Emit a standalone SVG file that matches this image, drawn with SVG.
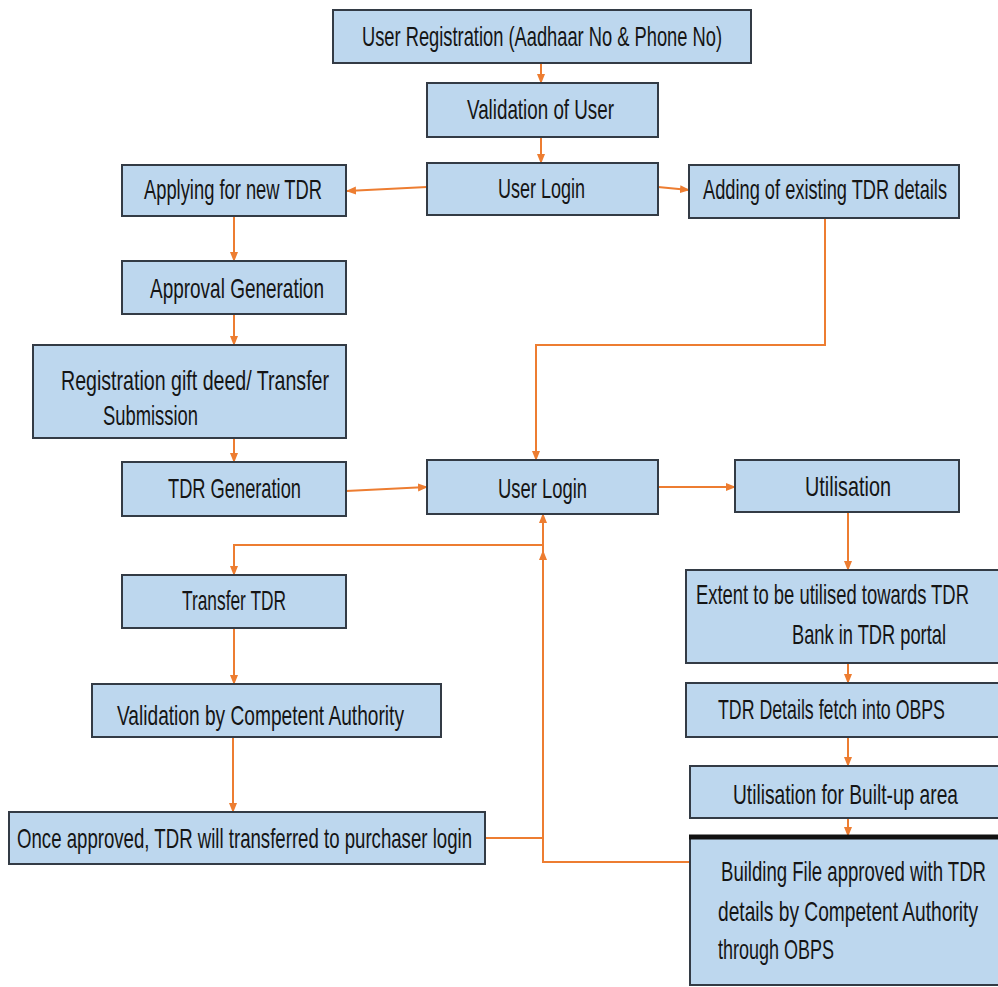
<svg xmlns="http://www.w3.org/2000/svg" width="998" height="987" viewBox="0 0 998 987">
<style>
.box{fill:#BDD7EE;stroke:#333b45;stroke-width:2}
.t{font-family:"Liberation Sans",Arial,sans-serif;font-size:28px;fill:#151515}
.c{fill:none;stroke:#ED7D31;stroke-width:2}
</style>
<defs>
<marker id="a" markerWidth="10" markerHeight="10" refX="9" refY="5" orient="auto" markerUnits="userSpaceOnUse">
<path d="M0,1 L10,5 L0,9 Z" fill="#ED7D31"/>
</marker>
</defs>
<rect width="998" height="987" fill="#fff"/>
<g id="connectors">
<path class="c" d="M541,63 V83" marker-end="url(#a)"/>
<path class="c" d="M541,137 V163" marker-end="url(#a)"/>
<path class="c" d="M427,187 L347,191" marker-end="url(#a)"/>
<path class="c" d="M658,187 L689,190" marker-end="url(#a)"/>
<path class="c" d="M234,216 V261" marker-end="url(#a)"/>
<path class="c" d="M234,313 V345" marker-end="url(#a)"/>
<path class="c" d="M234,438 V462" marker-end="url(#a)"/>
<path class="c" d="M825,218 V345 H536 V460" marker-end="url(#a)"/>
<path class="c" d="M346,491 L427,487" marker-end="url(#a)"/>
<path class="c" d="M658,487 H735" marker-end="url(#a)"/>
<path class="c" d="M848,512 V570" marker-end="url(#a)"/>
<path class="c" d="M848,663 V683" marker-end="url(#a)"/>
<path class="c" d="M848,737 V766" marker-end="url(#a)"/>
<path class="c" d="M848,818 V836" marker-end="url(#a)"/>
<path class="c" d="M690,862 H543 V551" marker-end="url(#a)"/>
<path class="c" d="M543,551 V514" marker-end="url(#a)"/>
<path class="c" d="M485,838 H543"/>
<path class="c" d="M543,545 H234 V575" marker-end="url(#a)"/>
<path class="c" d="M234,628 V684" marker-end="url(#a)"/>
<path class="c" d="M233,737 V812" marker-end="url(#a)"/>
</g>
<g id="n1"><rect class="box" x="333" y="10" width="418" height="53"/><text class="t" transform="translate(362,46) scale(0.66,1)" textLength="545.5" lengthAdjust="spacingAndGlyphs">User Registration (Aadhaar No &amp; Phone No)</text></g>
<g id="n2"><rect class="box" x="427" y="83" width="231" height="54"/><text class="t" transform="translate(467,119) scale(0.66,1)" textLength="222.7" lengthAdjust="spacingAndGlyphs">Validation of User</text></g>
<g id="n3"><rect class="box" x="427" y="163" width="231" height="52"/><text class="t" transform="translate(498,198) scale(0.66,1)" textLength="131.8" lengthAdjust="spacingAndGlyphs">User Login</text></g>
<g id="n4"><rect class="box" x="122" y="165" width="224" height="51"/><text class="t" transform="translate(144,199) scale(0.66,1)" textLength="269.7" lengthAdjust="spacingAndGlyphs">Applying for new TDR</text></g>
<g id="n5"><rect class="box" x="689" y="165" width="270" height="53"/><text class="t" transform="translate(703,199) scale(0.66,1)" textLength="369.7" lengthAdjust="spacingAndGlyphs">Adding of existing TDR details</text></g>
<g id="n6"><rect class="box" x="122" y="261" width="224" height="53"/><text class="t" transform="translate(150,298) scale(0.66,1)" textLength="263.6" lengthAdjust="spacingAndGlyphs">Approval Generation</text></g>
<g id="n7"><rect class="box" x="33" y="345" width="313" height="93"/><text class="t" transform="translate(61,390) scale(0.66,1)" textLength="406.1" lengthAdjust="spacingAndGlyphs">Registration gift deed/ Transfer</text><text class="t" transform="translate(103,425) scale(0.66,1)" textLength="143.9" lengthAdjust="spacingAndGlyphs">Submission</text></g>
<g id="n8"><rect class="box" x="122" y="462" width="224" height="54"/><text class="t" transform="translate(168,498) scale(0.66,1)" textLength="201.5" lengthAdjust="spacingAndGlyphs">TDR Generation</text></g>
<g id="n9"><rect class="box" x="427" y="460" width="231" height="54"/><text class="t" transform="translate(498,498) scale(0.66,1)" textLength="134.8" lengthAdjust="spacingAndGlyphs">User Login</text></g>
<g id="n10"><rect class="box" x="735" y="460" width="224" height="52"/><text class="t" transform="translate(805,496) scale(0.66,1)" textLength="130.3" lengthAdjust="spacingAndGlyphs">Utilisation</text></g>
<g id="n11"><rect class="box" x="122" y="575" width="224" height="53"/><text class="t" transform="translate(182,610) scale(0.66,1)" textLength="157.6" lengthAdjust="spacingAndGlyphs">Transfer TDR</text></g>
<g id="n12"><rect class="box" x="92" y="684" width="349" height="53"/><text class="t" transform="translate(117,725) scale(0.66,1)" textLength="434.8" lengthAdjust="spacingAndGlyphs">Validation by Competent Authority</text></g>
<g id="n13"><rect class="box" x="9" y="812" width="476" height="52"/><text class="t" transform="translate(17,848) scale(0.66,1)" textLength="689.4" lengthAdjust="spacingAndGlyphs">Once approved, TDR will transferred to purchaser login</text></g>
<g id="n14"><rect class="box" x="686" y="570" width="320" height="93"/><text class="t" transform="translate(696,604) scale(0.66,1)" textLength="413.6" lengthAdjust="spacingAndGlyphs">Extent to be utilised towards TDR</text><text class="t" transform="translate(792,644) scale(0.66,1)" textLength="233.3" lengthAdjust="spacingAndGlyphs">Bank in TDR portal</text></g>
<g id="n15"><rect class="box" x="686" y="683" width="320" height="54"/><text class="t" transform="translate(718,719) scale(0.66,1)" textLength="343.9" lengthAdjust="spacingAndGlyphs">TDR Details fetch into OBPS</text></g>
<g id="n16"><rect class="box" x="690" y="766" width="316" height="52"/><text class="t" transform="translate(733,804) scale(0.66,1)" textLength="340.9" lengthAdjust="spacingAndGlyphs">Utilisation for Built-up area</text></g>
<g id="n17"><rect class="box" x="690" y="837" width="316" height="148"/><line x1="689" y1="837" x2="998" y2="837" stroke="#111" stroke-width="5"/><text class="t" transform="translate(721,881) scale(0.66,1)" textLength="401.5" lengthAdjust="spacingAndGlyphs">Building File approved with TDR</text><text class="t" transform="translate(718,921) scale(0.66,1)" textLength="393.9" lengthAdjust="spacingAndGlyphs">details by Competent Authority</text><text class="t" transform="translate(718,959) scale(0.66,1)" textLength="175.8" lengthAdjust="spacingAndGlyphs">through OBPS</text></g>
</svg>
